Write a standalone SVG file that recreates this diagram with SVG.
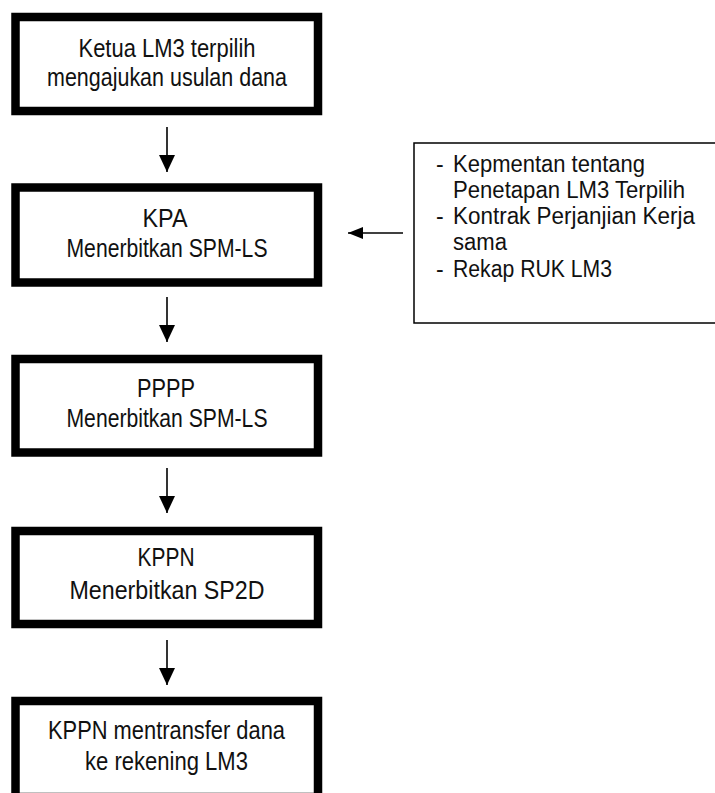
<svg xmlns="http://www.w3.org/2000/svg" width="715" height="793" viewBox="0 0 715 793">
  <style>
    .box { fill: #ffffff; stroke: #000000; stroke-width: 8.5; }
    .note { fill: #ffffff; stroke: #000000; stroke-width: 1.5; }
    .t { font-family: "Liberation Sans", Arial, sans-serif; font-size: 25.5px; fill: #111111; text-anchor: middle; }
    .s { font-family: "Liberation Sans", Arial, sans-serif; font-size: 23px; fill: #111111; }
    .c { stroke: #000000; stroke-width: 1.6; fill: none; }
  </style>
  <defs>
    <marker id="av" markerUnits="userSpaceOnUse" markerWidth="17" markerHeight="16" refX="17" refY="8" orient="auto">
      <path d="M0,0 L17,8 L0,16 Z" fill="#000000"/>
    </marker>
    <marker id="ah" markerUnits="userSpaceOnUse" markerWidth="15" markerHeight="12" refX="15" refY="6" orient="auto">
      <path d="M0,0 L15,6 L0,12 Z" fill="#000000"/>
    </marker>
  </defs>
  <rect width="715" height="793" fill="#ffffff"/>

  <g id="n1">
    <rect class="box" x="15.5" y="17" width="302.5" height="94"/>
    <text class="t" x="167" y="57" textLength="177" lengthAdjust="spacingAndGlyphs">Ketua LM3 terpilih</text>
    <text class="t" x="167" y="86" textLength="240" lengthAdjust="spacingAndGlyphs">mengajukan usulan dana</text>
  </g>

  <g id="n2">
    <rect class="box" x="15.5" y="187.5" width="302.5" height="95"/>
    <text class="t" x="165" y="227" textLength="45" lengthAdjust="spacingAndGlyphs">KPA</text>
    <text class="t" x="167" y="257" textLength="201" lengthAdjust="spacingAndGlyphs">Menerbitkan SPM-LS</text>
  </g>

  <g id="n3">
    <rect class="box" x="15.5" y="359" width="302.5" height="93.5"/>
    <text class="t" x="166" y="397" textLength="58" lengthAdjust="spacingAndGlyphs">PPPP</text>
    <text class="t" x="167" y="427" textLength="201" lengthAdjust="spacingAndGlyphs">Menerbitkan SPM-LS</text>
  </g>

  <g id="n4">
    <rect class="box" x="15.5" y="531" width="302.5" height="93"/>
    <text class="t" x="166" y="566" textLength="57" lengthAdjust="spacingAndGlyphs">KPPN</text>
    <text class="t" x="167" y="599" textLength="195" lengthAdjust="spacingAndGlyphs">Menerbitkan SP2D</text>
  </g>

  <g id="n5">
    <rect class="box" x="15.5" y="701" width="302.5" height="96"/>
    <text class="t" x="166.5" y="739" textLength="237" lengthAdjust="spacingAndGlyphs">KPPN mentransfer dana</text>
    <text class="t" x="166.5" y="770" textLength="163" lengthAdjust="spacingAndGlyphs">ke rekening LM3</text>
  </g>

  <g id="note">
    <rect class="note" x="414" y="143" width="320" height="180"/>
    <text class="s" x="436" y="172">-</text>
    <text class="s" x="453" y="172" textLength="192" lengthAdjust="spacingAndGlyphs">Kepmentan tentang</text>
    <text class="s" x="453" y="198" textLength="232" lengthAdjust="spacingAndGlyphs">Penetapan LM3 Terpilih</text>
    <text class="s" x="436" y="224">-</text>
    <text class="s" x="453" y="224" textLength="242" lengthAdjust="spacingAndGlyphs">Kontrak Perjanjian Kerja</text>
    <text class="s" x="453" y="250" textLength="54" lengthAdjust="spacingAndGlyphs">sama</text>
    <text class="s" x="436" y="277">-</text>
    <text class="s" x="453" y="277" textLength="159" lengthAdjust="spacingAndGlyphs">Rekap RUK LM3</text>
  </g>

  <g id="connectors">
    <line class="c" x1="167" y1="127" x2="167" y2="172" marker-end="url(#av)"/>
    <line class="c" x1="167" y1="297" x2="167" y2="342" marker-end="url(#av)"/>
    <line class="c" x1="167" y1="468" x2="167" y2="513" marker-end="url(#av)"/>
    <line class="c" x1="167" y1="640" x2="167" y2="685" marker-end="url(#av)"/>
    <line class="c" x1="403" y1="233" x2="348" y2="233" marker-end="url(#ah)"/>
  </g>
</svg>
